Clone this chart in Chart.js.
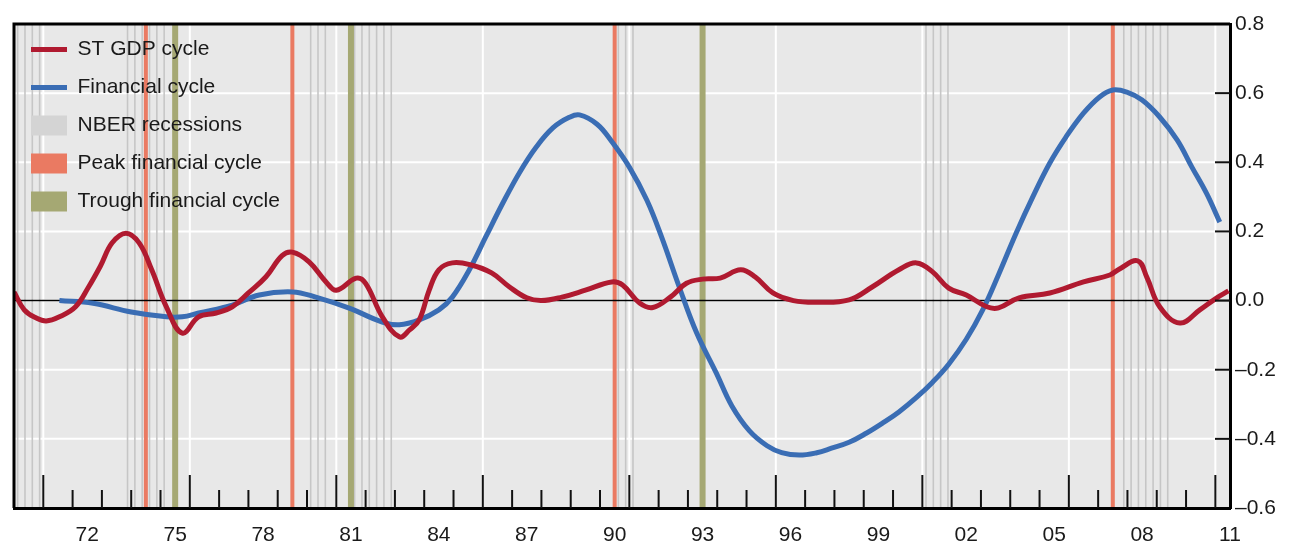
<!DOCTYPE html>
<html>
<head>
<meta charset="utf-8">
<script src="https://cdn.jsdelivr.net/npm/chart.js@4.4.1/dist/chart.umd.min.js"></script>
<style>
  html, body { margin: 0; padding: 0; background: #fff; }
  #wrap { width: 1294px; height: 554px; }
</style>
</head>
<body>
<div id="wrap"><canvas id="myChart" width="1294" height="554"></canvas></div>
<script>
// ST GDP cycle (red)
const gdpYears = [1970.0, 1970.35, 1970.75, 1971.1, 1971.55, 1972.1, 1972.55, 1972.95, 1973.35, 1973.82,
  1974.27, 1974.7, 1975.2, 1975.74, 1976.3, 1976.9, 1977.45, 1978.0, 1978.6, 1979.15,
  1979.5, 1980.07, 1980.65, 1981.0, 1981.68, 1982.0, 1982.57, 1983.15, 1983.5, 1983.83,
  1984.17, 1984.5, 1984.96, 1985.6, 1986.3, 1986.9, 1987.5, 1988.0, 1988.7, 1989.5,
  1990.4, 1990.77, 1991.35, 1991.8, 1992.4, 1992.95, 1993.5, 1994.1, 1994.8, 1995.3,
  1995.9, 1996.6, 1997.4, 1998.5, 1999.3, 2000.2, 2000.8, 2001.35, 2001.9, 2002.5,
  2003.2, 2003.6, 2004.3, 2005.35, 2006.5, 2007.4, 2007.7, 2008.35, 2008.66, 2009.1,
  2009.79, 2010.47, 2011.05, 2011.45];
const gdpCycle = [0.025, -0.027, -0.05, -0.059, -0.047, -0.018, 0.04, 0.10, 0.167, 0.195,
  0.167, 0.089, -0.018, -0.094, -0.047, -0.036, -0.018, 0.022, 0.069, 0.13,
  0.14, 0.112, 0.054, 0.03, 0.065, 0.05, -0.047, -0.105, -0.085, -0.056,
  0.03, 0.089, 0.109, 0.103, 0.08, 0.04, 0.008, 0.0, 0.01, 0.03,
  0.054, 0.045, -0.007, -0.02, 0.01, 0.05, 0.062, 0.065, 0.089, 0.068,
  0.022, 0.0, -0.005, 0.002, 0.04, 0.089, 0.109, 0.083, 0.036, 0.016,
  -0.018, -0.021, 0.008, 0.022, 0.054, 0.074, 0.09, 0.115, 0.068, -0.018,
  -0.065, -0.027, 0.008, 0.028];

// Financial cycle (blue)
const finYears = [1971.55, 1972.7, 1974.0, 1975.2, 1975.74, 1976.3, 1977.45, 1978.37, 1979.5, 1980.3,
  1981.44, 1982.57, 1983.15, 1983.83, 1984.5, 1984.96, 1985.54, 1986.1, 1986.67, 1987.25,
  1987.83, 1988.4, 1988.95, 1989.3, 1989.9, 1990.4, 1991.0, 1991.6, 1992.1, 1992.7,
  1993.3, 1993.97, 1994.5, 1995.1, 1995.7, 1996.2, 1996.8, 1997.4, 1997.9, 1998.5,
  1999.1, 1999.65, 2000.2, 2000.8, 2001.35, 2001.9, 2002.5, 2003.06, 2003.6, 2004.2,
  2004.77, 2005.35, 2005.9, 2006.5, 2007.05, 2007.5, 2007.98, 2008.5, 2009.1, 2009.7,
  2010.2, 2010.7, 2011.15];
const finCycle = [0.0, -0.008, -0.033, -0.047, -0.047, -0.036, -0.013, 0.016, 0.025, 0.01,
  -0.022, -0.062, -0.07, -0.056, -0.027, 0.01, 0.089, 0.184, 0.28, 0.37,
  0.445, 0.50, 0.53, 0.537, 0.51, 0.46, 0.386, 0.29, 0.184, 0.04,
  -0.094, -0.21, -0.305, -0.377, -0.42, -0.44, -0.447, -0.44, -0.427, -0.41,
  -0.383, -0.354, -0.322, -0.28, -0.236, -0.184, -0.112, -0.027, 0.075, 0.195,
  0.30, 0.398, 0.473, 0.542, 0.589, 0.609, 0.603, 0.58, 0.531, 0.464,
  0.386, 0.31, 0.227];

const peakYears = [1974.5, 1979.5, 1990.5, 2007.5];
const troughYears = [1975.5, 1981.5, 1993.5];
// NBER recessions, first and last quarter (quarter midpoints)
const recessionStart = [1970.125, 1973.875, 1980.125, 1981.625, 1990.625, 2001.125, 2007.875];
const recessionEnd   = [1970.875, 1975.125, 1980.625, 1982.875, 1991.125, 2001.875, 2009.375];

const xLabelYears = [1972, 1975, 1978, 1981, 1984, 1987, 1990, 1993, 1996, 1999, 2002, 2005, 2008, 2011];

const FONT = '"Liberation Sans", Arial, sans-serif';
const TEXT = '#1a1a1a';
const RED = '#b01a30';
const BLUE = '#3a6db4';
const PEAK = '#ea7a62';
const TROUGH = '#a5a873';
const NBER = '#c6c6c6';

const legendItems = [
  { text: 'ST GDP cycle', pointStyle: 'line', strokeStyle: RED, fillStyle: RED, lineWidth: 5 },
  { text: 'Financial cycle', pointStyle: 'line', strokeStyle: BLUE, fillStyle: BLUE, lineWidth: 5 },
  { text: 'NBER recessions', pointStyle: 'rect', strokeStyle: '#d4d4d4', fillStyle: '#d4d4d4', lineWidth: 0 },
  { text: 'Peak financial cycle', pointStyle: 'rect', strokeStyle: PEAK, fillStyle: PEAK, lineWidth: 0 },
  { text: 'Trough financial cycle', pointStyle: 'rect', strokeStyle: TROUGH, fillStyle: TROUGH, lineWidth: 0 }
];

function vline(ctx, x, top, bottom, color, width) {
  ctx.strokeStyle = color;
  ctx.lineWidth = width;
  ctx.beginPath();
  ctx.moveTo(x, top);
  ctx.lineTo(x, bottom);
  ctx.stroke();
}

const decor = {
  id: 'decor',
  beforeDraw(chart) {
    const { ctx, chartArea: a, scales: { x, y } } = chart;
    ctx.save();
    ctx.fillStyle = '#e8e8e8';
    ctx.fillRect(a.left, a.top, a.right - a.left, a.bottom - a.top);

    // white grid
    ctx.strokeStyle = '#ffffff';
    ctx.lineWidth = 2;
    y.ticks.forEach(t => {
      const py = y.getPixelForValue(t.value);
      ctx.beginPath();
      ctx.moveTo(a.left, py);
      ctx.lineTo(a.right, py);
      ctx.stroke();
    });
    for (let yr = 1971; yr <= 2011; yr += 5) {
      vline(ctx, x.getPixelForValue(yr), a.top, a.bottom, '#ffffff', 2);
    }

    // NBER recessions as quarterly hairlines
    recessionStart.forEach((s, i) => {
      for (let q = s; q <= recessionEnd[i] + 1e-6; q += 0.25) {
        vline(ctx, x.getPixelForValue(q), a.top, a.bottom, NBER, 1.6);
      }
    });
    peakYears.forEach(p => vline(ctx, x.getPixelForValue(p), a.top, a.bottom, PEAK, 4));
    troughYears.forEach(p => vline(ctx, x.getPixelForValue(p), a.top, a.bottom, TROUGH, 6));

    // zero line
    const y0 = y.getPixelForValue(0);
    ctx.strokeStyle = '#000';
    ctx.lineWidth = 1.5;
    ctx.beginPath();
    ctx.moveTo(a.left, y0);
    ctx.lineTo(a.right, y0);
    ctx.stroke();
    ctx.restore();
  },
  afterDraw(chart) {
    const { ctx, chartArea: a, scales: { x, y } } = chart;
    ctx.save();
    // top and left frame
    ctx.strokeStyle = '#000';
    ctx.lineWidth = 3;
    ctx.beginPath();
    ctx.moveTo(a.left, a.bottom);
    ctx.lineTo(a.left, a.top);
    ctx.lineTo(a.right, a.top);
    ctx.stroke();
    // inward year ticks
    for (let yr = 1971; yr <= 2011; yr++) {
      const len = (yr - 1971) % 5 === 0 ? 33 : 18;
      vline(ctx, x.getPixelForValue(yr), a.bottom, a.bottom - len, '#111', 2);
    }
    // inward value ticks on the right axis
    ctx.lineWidth = 2;
    y.ticks.forEach(t => {
      if (t.value <= y.min || t.value >= y.max) return;
      const py = y.getPixelForValue(t.value);
      ctx.beginPath();
      ctx.moveTo(a.right - 15, py);
      ctx.lineTo(a.right, py);
      ctx.stroke();
    });
    ctx.restore();
  }
};

new Chart(document.getElementById('myChart'), {
  type: 'line',
  data: {
    datasets: [
      {
        label: 'ST GDP cycle',
        data: gdpYears.map((yr, i) => ({ x: yr, y: gdpCycle[i] })),
        borderColor: RED,
        borderWidth: 5,
        pointRadius: 0,
        tension: 0.4
      },
      {
        label: 'Financial cycle',
        data: finYears.map((yr, i) => ({ x: yr, y: finCycle[i] })),
        borderColor: BLUE,
        borderWidth: 5,
        pointRadius: 0,
        tension: 0.4
      }
    ]
  },
  options: {
    responsive: false,
    animation: false,
    devicePixelRatio: 1,
    layout: { padding: { left: 14, top: 24, right: 4, bottom: 0 } },
    plugins: {
      tooltip: { enabled: false },
      legend: {
        position: 'chartArea',
        align: 'start',
        title: { display: true, text: ' ', font: { size: 10 }, padding: { top: 5, bottom: 5 } },
        labels: {
          usePointStyle: true,
          pointStyleWidth: 36,
          boxHeight: 20,
          padding: 17,
          color: TEXT,
          font: { family: FONT, size: 21 },
          generateLabels: () => legendItems.map(it => Object.assign({ hidden: false, fontColor: TEXT }, it))
        }
      }
    },
    scales: {
      x: {
        type: 'linear',
        min: 1970,
        max: 2011.5,
        afterBuildTicks: scale => { scale.ticks = xLabelYears.map(yr => ({ value: yr + 0.5 })); },
        afterFit: scale => { scale.height = 46; },
        grid: { display: false, drawTicks: false },
        border: { display: true, color: '#000', width: 3 },
        ticks: {
          autoSkip: false,
          maxRotation: 0,
          padding: 15,
          color: TEXT,
          font: { family: FONT, size: 21 },
          callback: v => String(Math.floor(v)).slice(2)
        }
      },
      y: {
        position: 'right',
        min: -0.6,
        max: 0.8,
        afterFit: scale => { scale.width = 60; },
        grid: { display: false, drawTicks: false },
        border: { display: true, color: '#000', width: 3 },
        ticks: {
          stepSize: 0.2,
          padding: 5,
          color: TEXT,
          font: { family: FONT, size: 21 },
          callback: v => {
            const r = Math.round(v * 10) / 10;
            return (r < 0 ? '\u2013' : '') + Math.abs(r).toFixed(1);
          }
        }
      }
    }
  },
  plugins: [decor]
});
</script>
</body>
</html>
